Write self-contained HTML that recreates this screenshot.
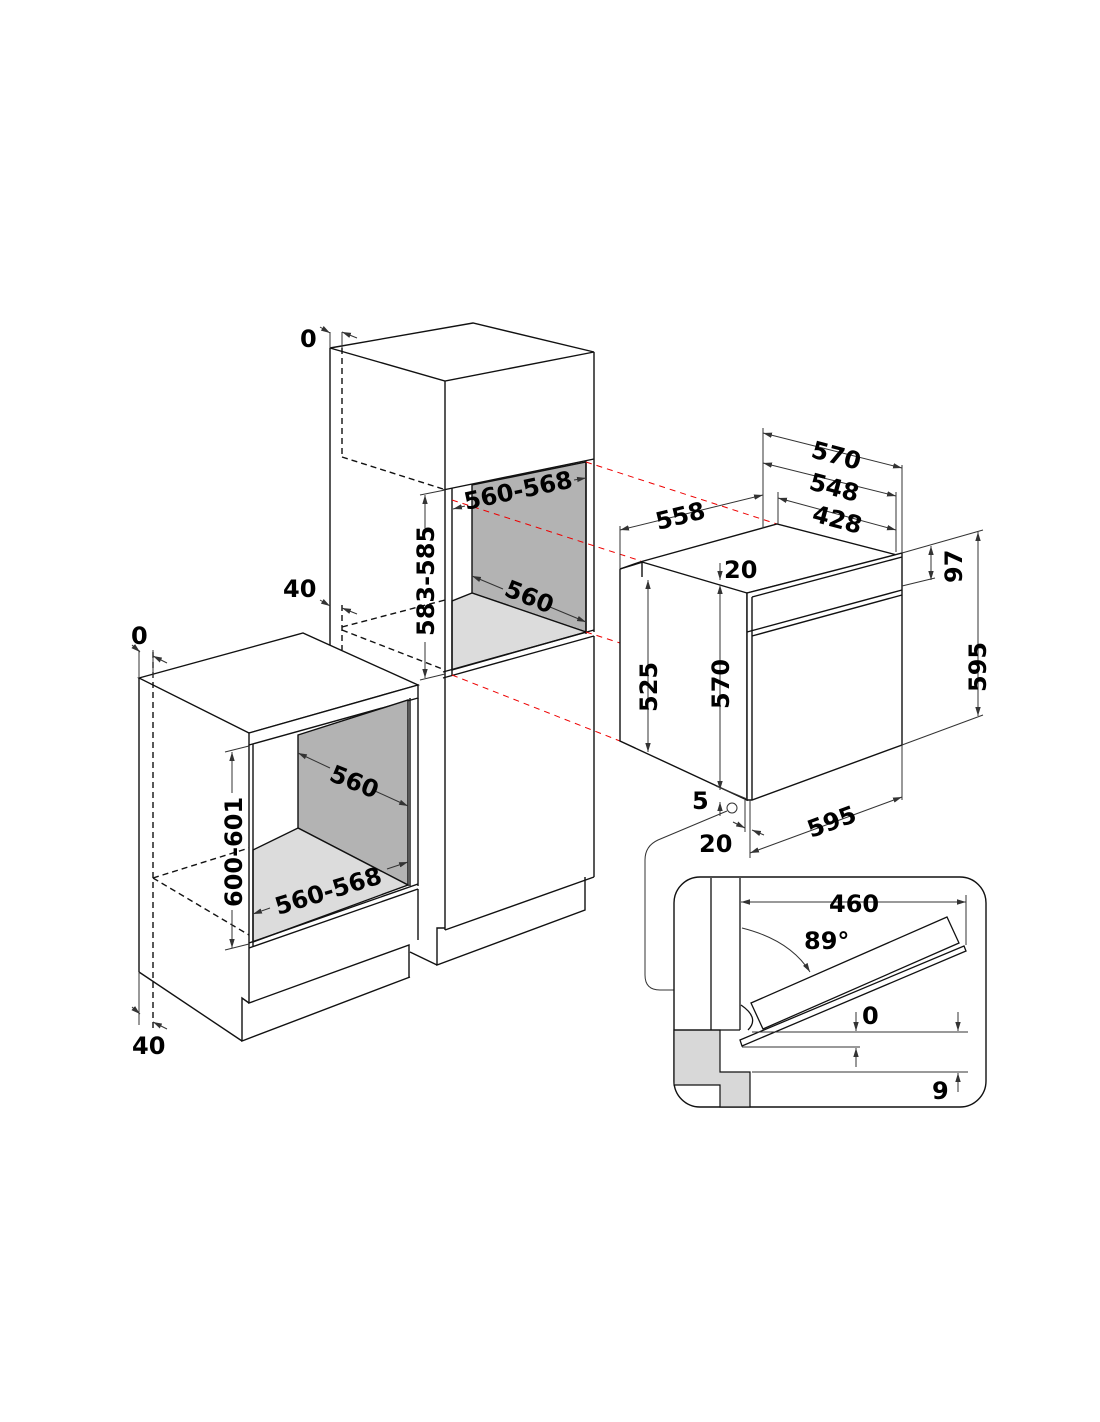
<!DOCTYPE html>
<html><head><meta charset="utf-8"><style>
html,body{margin:0;padding:0;background:#fff}
svg{display:block}
text{font-family:"DejaVu Sans","Liberation Sans",sans-serif;font-weight:bold;font-size:24px;fill:#000}
</style></head><body>
<svg width="1100" height="1422" viewBox="0 0 1100 1422" xmlns="http://www.w3.org/2000/svg">
<defs>
<marker id="a" viewBox="0 0 10 10" refX="10" refY="5" markerWidth="9" markerHeight="9" orient="auto-start-reverse"><path d="M0,2 L10,5 L0,8 z" fill="#333"/></marker>
</defs>
<g fill="none" stroke="#111" stroke-width="1.4">
<!-- tall cabinet -->
<polygon points="330,348 473,323 594,352 445,381" fill="#fff"/>
<line x1="330" y1="348" x2="330" y2="645"/>
<line x1="445" y1="381" x2="445" y2="490"/>
<line x1="594" y1="352" x2="594" y2="459"/>
<line x1="443" y1="490" x2="594" y2="459"/>
<polygon points="472,485 586,462 586,632 472,593" fill="#b3b3b3"/>
<polygon points="472,593 586,632 452,670 452,601" fill="#dcdcdc"/>
<line x1="445" y1="490" x2="445" y2="678"/><line x1="452" y1="488" x2="452" y2="676"/>
<line x1="586" y1="462" x2="586" y2="634"/><line x1="594" y1="459" x2="594" y2="632"/>
<line x1="443" y1="672" x2="594" y2="630"/><line x1="443" y1="678" x2="594" y2="636"/>
<line x1="445" y1="678" x2="445" y2="930"/><line x1="594" y1="636" x2="594" y2="877"/>
<line x1="445" y1="930" x2="594" y2="877"/>
<polyline points="445,928 437,928 437,965 585,910 585,877"/>
<line x1="410" y1="952" x2="437" y2="965"/>
<g stroke-dasharray="6,4">
<line x1="342" y1="348" x2="342" y2="457"/><line x1="342" y1="457" x2="443" y2="489"/>
<line x1="342" y1="605" x2="342" y2="650"/><line x1="342" y1="627" x2="445" y2="600"/><line x1="342" y1="630" x2="445" y2="670"/>
</g>
<!-- left cabinet -->
<polygon points="139,678 303,633 418,685 249,733" fill="#fff"/>
<polygon points="249,733 418,685 418,698 249,745" fill="#fff"/>
<line x1="139" y1="678" x2="139" y2="972"/><line x1="139" y1="972" x2="242" y2="1041"/>
<polygon points="298,735 408,700 408,885 298,828" fill="#b3b3b3"/>
<polygon points="298,828 408,885 253,942 253,850" fill="#dcdcdc"/>
<line x1="249" y1="745" x2="249" y2="948"/><line x1="253" y1="744" x2="253" y2="946"/>
<line x1="410" y1="698" x2="410" y2="886"/><line x1="418" y1="698" x2="418" y2="886"/>
<line x1="249" y1="943" x2="418" y2="884"/><line x1="249" y1="948" x2="418" y2="889"/>
<polyline points="249,948 249,1003 409,945 409,977"/>
<polyline points="249,1003 242,998 242,1041 410,977"/>
<line x1="418" y1="889" x2="418" y2="940"/>
<g stroke-dasharray="6,4">
<line x1="153" y1="652" x2="153" y2="1030"/><line x1="153" y1="878" x2="249" y2="848"/><line x1="153" y1="878" x2="249" y2="935"/>
</g>
<!-- red lines -->
<g stroke="#e00" stroke-dasharray="6,5" stroke-width="1">
<line x1="586" y1="462" x2="777" y2="524"/><line x1="452" y1="500" x2="641" y2="561"/>
<line x1="586" y1="632" x2="620" y2="643"/><line x1="452" y1="675" x2="620" y2="741"/>
</g>
<!-- oven -->
<polygon points="620,569 640,562 777,524 897,555 747,593 747,800 620,741" fill="#fff"/>
<line x1="642" y1="561" x2="642" y2="577"/>
<polygon points="747,593 902,553 902,745 752,800 747,800" fill="#fff"/>
<line x1="752" y1="597" x2="752" y2="800"/><line x1="752" y1="597" x2="902" y2="557"/>
<line x1="747" y1="632" x2="902" y2="590"/><line x1="752" y1="636" x2="902" y2="595"/>
<line x1="620" y1="569" x2="643" y2="562"/><line x1="642" y1="562" x2="747" y2="593"/>
</g>
<!-- dimensions -->
<g fill="none" stroke="#333" stroke-width="1">
<line x1="763" y1="428" x2="763" y2="528"/><line x1="902" y1="465" x2="902" y2="553"/>
<line x1="778" y1="492" x2="778" y2="524"/><line x1="896" y1="492" x2="896" y2="552"/>
<line x1="620" y1="526" x2="620" y2="568"/>
<line x1="763" y1="433" x2="902" y2="468" marker-start="url(#a)" marker-end="url(#a)"/>
<line x1="763" y1="463" x2="896" y2="496" marker-start="url(#a)" marker-end="url(#a)"/>
<line x1="778" y1="498" x2="896" y2="530" marker-start="url(#a)" marker-end="url(#a)"/>
<line x1="620" y1="530" x2="763" y2="495" marker-start="url(#a)" marker-end="url(#a)"/>
<line x1="902" y1="553" x2="983" y2="530"/><line x1="902" y1="586" x2="935" y2="578"/>
<line x1="931" y1="546" x2="931" y2="580" marker-start="url(#a)" marker-end="url(#a)"/>
<line x1="902" y1="745" x2="983" y2="715"/>
<line x1="978" y1="532" x2="978" y2="716" marker-start="url(#a)" marker-end="url(#a)"/>
<line x1="648" y1="580" x2="648" y2="752" marker-start="url(#a)" marker-end="url(#a)"/>
<line x1="720" y1="585" x2="720" y2="790" marker-start="url(#a)" marker-end="url(#a)"/>
<line x1="720" y1="563" x2="720" y2="580" marker-end="url(#a)"/>
<line x1="720" y1="816" x2="720" y2="802" marker-end="url(#a)"/>
<line x1="716" y1="786" x2="747" y2="799"/>
<line x1="902" y1="745" x2="902" y2="800"/><line x1="750" y1="800" x2="750" y2="858"/>
<line x1="750" y1="853" x2="902" y2="797" marker-start="url(#a)" marker-end="url(#a)"/>
<line x1="733" y1="822" x2="745" y2="828" marker-end="url(#a)"/><line x1="764" y1="835" x2="752" y2="830" marker-end="url(#a)"/>
<line x1="745" y1="800" x2="745" y2="832"/>
<circle cx="732" cy="808" r="5" fill="#fff"/>
<path d="M727,811 L658,840 Q645,846 645,860 L645,975 Q645,990 660,990 L675,990"/>
<!-- tall cabinet dims -->
<line x1="330" y1="332" x2="330" y2="348"/><line x1="342" y1="332" x2="342" y2="348"/>
<line x1="320" y1="327" x2="330" y2="333" marker-end="url(#a)"/><line x1="357" y1="338" x2="342" y2="332" marker-end="url(#a)"/>
<line x1="320" y1="600" x2="330" y2="606" marker-end="url(#a)"/><line x1="357" y1="614" x2="342" y2="608" marker-end="url(#a)"/>
<line x1="420" y1="495" x2="445" y2="490"/><line x1="420" y1="680" x2="445" y2="674"/>
<line x1="425" y1="495" x2="425" y2="528" marker-start="url(#a)"/><line x1="425" y1="642" x2="425" y2="678" marker-end="url(#a)"/>
<line x1="465" y1="506" x2="453" y2="509" marker-end="url(#a)"/>
<line x1="574" y1="480" x2="586" y2="478" marker-end="url(#a)"/>
<line x1="472" y1="576" x2="503" y2="589" marker-start="url(#a)"/><line x1="550" y1="607" x2="586" y2="622" marker-end="url(#a)"/>
<!-- left cabinet dims -->
<line x1="139" y1="650" x2="139" y2="678"/><line x1="153" y1="650" x2="153" y2="678"/>
<line x1="132" y1="645" x2="140" y2="652" marker-end="url(#a)"/><line x1="167" y1="663" x2="153" y2="656" marker-end="url(#a)"/>
<line x1="139" y1="972" x2="139" y2="1025"/>
<line x1="132" y1="1007" x2="140" y2="1014" marker-end="url(#a)"/><line x1="167" y1="1029" x2="153" y2="1022" marker-end="url(#a)"/>
<line x1="225" y1="752" x2="249" y2="746"/><line x1="225" y1="950" x2="249" y2="944"/>
<line x1="232" y1="752" x2="232" y2="793" marker-start="url(#a)"/><line x1="232" y1="910" x2="232" y2="948" marker-end="url(#a)"/>
<line x1="298" y1="753" x2="330" y2="768" marker-start="url(#a)"/><line x1="375" y1="791" x2="408" y2="806" marker-end="url(#a)"/>
<line x1="270" y1="908" x2="253" y2="914" marker-end="url(#a)"/><line x1="387" y1="869" x2="408" y2="862" marker-end="url(#a)"/>
</g>
<!-- detail box -->
<rect x="674" y="877" width="312" height="230" rx="26" fill="#fff" stroke="#111" stroke-width="1.4"/>
<path d="M674,1030 L720,1030 L720,1072 L750,1072 L750,1107 L720,1107 L720,1085 L674,1085 Z" fill="#d8d8d8" stroke="#111" stroke-width="1.2"/>
<g fill="none" stroke="#111" stroke-width="1.3">
<line x1="711" y1="878" x2="711" y2="1030"/><line x1="740" y1="878" x2="740" y2="1030"/>
<line x1="674" y1="1030" x2="740" y2="1030"/>
<polygon points="751,1003 947,917 959,943 763,1029" fill="#fff"/>
<polygon points="740,1040 964,946 966,951 742,1046" fill="#fff"/>
<path d="M741,1005 Q760,1018 748,1030"/>
</g>
<g fill="none" stroke="#333" stroke-width="1">
<line x1="741" y1="902" x2="966" y2="902" marker-start="url(#a)" marker-end="url(#a)"/>
<line x1="966" y1="895" x2="966" y2="945"/>
<path d="M742,928 Q790,940 810,972" marker-end="url(#a)"/>
<line x1="752" y1="1032" x2="968" y2="1032"/><line x1="742" y1="1047" x2="860" y2="1047"/><line x1="752" y1="1072" x2="968" y2="1072"/>
<line x1="856" y1="1012" x2="856" y2="1031" marker-end="url(#a)"/>
<line x1="958" y1="1012" x2="958" y2="1031" marker-end="url(#a)"/>
<line x1="856" y1="1067" x2="856" y2="1048" marker-end="url(#a)"/>
<line x1="958" y1="1092" x2="958" y2="1073" marker-end="url(#a)"/>
</g>
<!-- labels -->
<text x="300" y="347">0</text>
<text x="283" y="597">40</text>
<text x="131" y="644">0</text>
<text x="132" y="1054">40</text>
<text transform="translate(434,636) rotate(-90)">583-585</text>
<text transform="translate(466,510) rotate(-12)">560-568</text>
<text transform="translate(503,595) rotate(22)">560</text>
<text transform="translate(328,780) rotate(22)">560</text>
<text transform="translate(278,915) rotate(-17)">560-568</text>
<text transform="translate(242,907) rotate(-90)">600-601</text>
<text transform="translate(810,457) rotate(15)">570</text>
<text transform="translate(808,489) rotate(15)">548</text>
<text transform="translate(811,521) rotate(15)">428</text>
<text transform="translate(658,530) rotate(-14)">558</text>
<text x="724" y="578">20</text>
<text transform="translate(962,583) rotate(-90)">97</text>
<text transform="translate(986,692) rotate(-90)">595</text>
<text transform="translate(657,712) rotate(-90)">525</text>
<text transform="translate(729,709) rotate(-90)">570</text>
<text x="692" y="809">5</text>
<text x="699" y="852">20</text>
<text transform="translate(811,838) rotate(-20)">595</text>
<text x="829" y="912">460</text>
<text x="804" y="949">89°</text>
<text x="862" y="1024">0</text>
<text x="932" y="1099">9</text>
</svg>
</body></html>
